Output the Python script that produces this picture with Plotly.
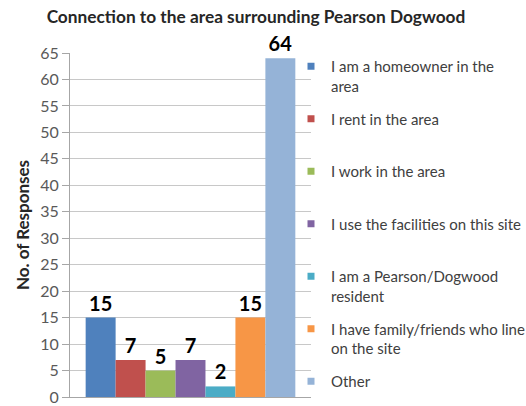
import plotly.graph_objects as go

categories = [
    "I am a homeowner in the area",
    "I rent in the area",
    "I work in the area",
    "I use the facilities on this site",
    "I am a Pearson/Dogwood resident",
    "I have family/friends who line on the site",
    "Other",
]
legend_labels = [
    "I am a homeowner in the<br>area",
    "I rent in the area<br> ",
    "I work in the area<br> ",
    "I use the facilities on this site<br> ",
    "I am a Pearson/Dogwood<br>resident",
    "I have family/friends who line<br>on the site",
    "Other",
]
values = [15, 7, 5, 7, 2, 15, 64]
colors = ["#4F81BD", "#C0504D", "#9BBB59", "#8064A2", "#4BACC6", "#F79646", "#95B3D7"]
y_ticks = list(range(0, 70, 5))

W, H = 526, 406
FONT = "Lato"

fig = go.Figure()
for cat, v, c in zip(categories, values, colors):
    fig.add_trace(go.Bar(
        x=[""], y=[v], name=cat, showlegend=False,
        marker=dict(color=c, line=dict(width=0)),
        text=[str(v)], textposition="outside",
        textfont=dict(family=FONT, size=20, color="#000000", weight="bold"),
        cliponaxis=False,
    ))
for cat, lab, c in zip(categories, legend_labels, colors):
    fig.add_trace(go.Scatter(
        x=[None], y=[None], name=lab, mode="markers", legendgroup=cat,
        marker=dict(symbol="square", size=7, color=c),
    ))

fig.update_layout(
    width=W, height=H,
    margin=dict(l=70, r=215, t=53, b=9, autoexpand=False),
    paper_bgcolor="white", plot_bgcolor="white",
    barmode="group", bargap=0.13, bargroupgap=0,
    title=dict(
        text="<b>Connection to the area surrounding Pearson Dogwood</b>",
        font=dict(family=FONT, size=17.3, color="#262626"),
        xref="container", x=256 / W, xanchor="center",
        yref="container", y=1 - 17 / H, yanchor="middle",
    ),
    legend=dict(
        xref="container", x=291 / W, xanchor="left",
        yref="container", y=1 - 50 / H, yanchor="top",
        font=dict(family=FONT, size=15, color="#404040"),
        traceorder="grouped", tracegroupgap=10.5, valign="top",
        itemwidth=30, bgcolor="rgba(0,0,0,0)", maxheight=400,
    ),
    xaxis=dict(
        showticklabels=False, showgrid=False, ticks="",
        showline=True, linecolor="#a6a6a6", linewidth=1,
    ),
    yaxis=dict(
        range=[0, 65], tickvals=y_ticks, ticks="outside", ticklen=7,
        tickcolor="#a6a6a6", showline=True, linecolor="#a6a6a6",
        showgrid=True, gridcolor="#c8c8c8", gridwidth=1, zeroline=False,
        tickfont=dict(family=FONT, size=16, color="#595959"),
        title=dict(text="<b>No. of Responses</b>", standoff=6,
                   font=dict(family=FONT, size=17, color="#262626")),
    ),
)

fig.write_html("out.html")
